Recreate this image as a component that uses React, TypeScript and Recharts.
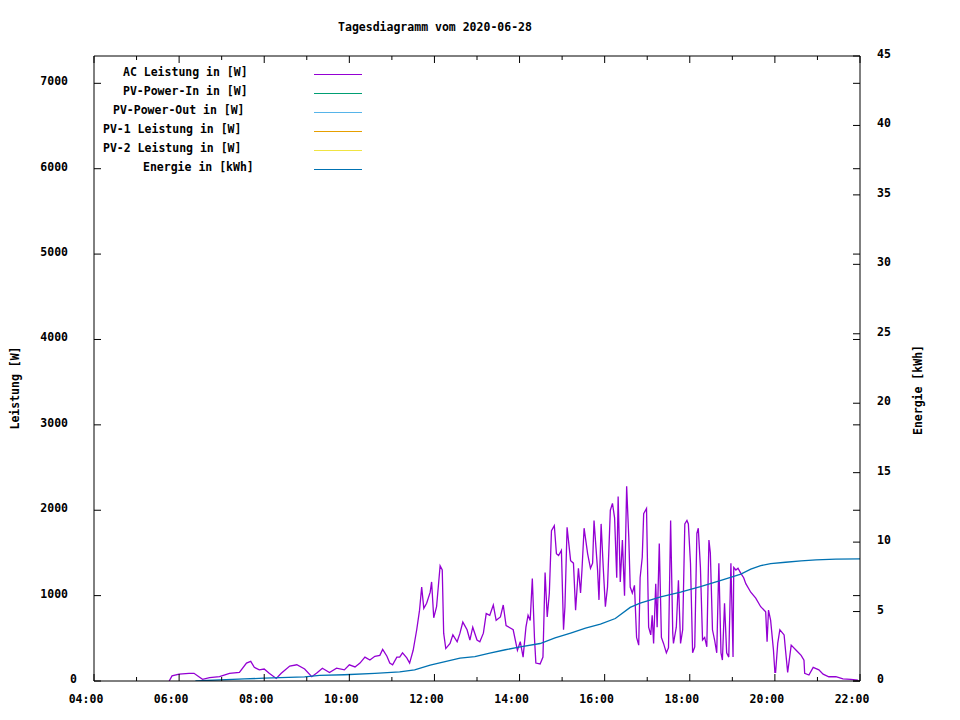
import * as React from 'react'
import { LineChart, Line, XAxis, YAxis, ReferenceLine } from 'recharts'

// AC Leistung in [W]
const acTimes = [
  '05:46', '05:50', '06:00', '06:14', '06:21', '06:33', '06:43', '06:57', '07:11', '07:25',
  '07:35', '07:41', '07:46', '07:53', '08:00', '08:07', '08:17', '08:24', '08:36', '08:46',
  '08:57', '09:07', '09:15', '09:22', '09:32', '09:42', '09:53', '10:00', '10:08', '10:15',
  '10:22', '10:29', '10:36', '10:43', '10:47', '10:53', '10:57', '11:01', '11:07', '11:11',
  '11:15', '11:21', '11:25', '11:30', '11:35', '11:39', '11:42', '11:45', '11:49', '11:54',
  '11:56', '11:59', '12:03', '12:08', '12:11', '12:13', '12:16', '12:22', '12:26', '12:32',
  '12:36', '12:40', '12:46', '12:50', '12:54', '13:00', '13:04', '13:09', '13:13', '13:18',
  '13:23', '13:27', '13:33', '13:37', '13:41', '13:47', '13:51', '13:57', '14:01', '14:05',
  '14:09', '14:12', '14:15', '14:18', '14:21', '14:23', '14:29', '14:33', '14:36', '14:39',
  '14:42', '14:45', '14:49', '14:52', '14:55', '14:59', '15:02', '15:04', '15:07', '15:12',
  '15:16', '15:19', '15:23', '15:26', '15:28', '15:31', '15:36', '15:40', '15:43', '15:45',
  '15:50', '15:52', '15:55', '15:58', '16:01', '16:04', '16:08', '16:11', '16:14', '16:17',
  '16:19', '16:22', '16:25', '16:28', '16:31', '16:34', '16:36', '16:39', '16:42', '16:45',
  '16:48', '16:50', '16:53', '16:55', '16:59', '17:02', '17:05', '17:07', '17:09', '17:12',
  '17:14', '17:17', '17:20', '17:23', '17:27', '17:30', '17:33', '17:36', '17:37', '17:41',
  '17:44', '17:47', '17:50', '17:53', '17:56', '17:58', '18:01', '18:04', '18:07', '18:10',
  '18:12', '18:15', '18:18', '18:21', '18:24', '18:27', '18:29', '18:32', '18:35', '18:38',
  '18:41', '18:44', '18:46', '18:49', '18:52', '18:55', '18:58', '19:01', '19:02', '19:05',
  '19:08', '19:12', '19:16', '19:19', '19:26', '19:33', '19:40', '19:47', '19:49', '19:51',
  '19:54', '19:58', '20:00', '20:01', '20:04', '20:07', '20:13', '20:15', '20:18', '20:23',
  '20:30', '20:37', '20:41', '20:42', '20:48', '20:54', '21:02', '21:08', '21:16', '21:26',
  '21:36', '21:47', '21:57',
]
const acWatts = [
  0, 60, 80, 90, 90, 20, 40, 50, 90, 100,
  210, 230, 160, 130, 140, 90, 30, 90, 175, 190,
  140, 50, 100, 150, 100, 150, 130, 190, 165, 210,
  280, 245, 290, 300, 370, 290, 210, 190, 280, 280,
  330, 270, 210, 360, 600, 830, 1100, 850, 910, 1040,
  1160, 740, 870, 1350, 1300, 560, 380, 440, 540, 460,
  560, 690, 600, 480, 630, 480, 460, 560, 790, 770,
  890, 710, 750, 890, 650, 620, 600, 360, 460, 280,
  630, 770, 710, 1200, 510, 210, 200, 280, 1270, 750,
  1030, 1760, 1820, 1490, 1470, 1530, 600, 870, 1800, 1410,
  1380, 830, 1320, 1030, 1300, 1790, 1490, 1320, 1380, 1880,
  1300, 950, 1840, 1330, 870, 1100, 2000, 2080, 1910, 1210,
  2160, 1160, 1650, 1000, 2280, 1680, 1100, 1030, 1120, 510,
  420, 1210, 1450, 1960, 2020, 630, 540, 770, 440, 1140,
  630, 1610, 510, 440, 330, 390, 1880, 560, 440, 630,
  1180, 440, 600, 1840, 1880, 1840, 1380, 330, 400, 1730,
  1790, 1330, 480, 510, 400, 1650, 1500, 600, 480, 330,
  1380, 330, 245, 910, 330, 280, 1380, 280, 1330, 1300,
  1320, 1260, 1210, 1140, 1040, 970, 870, 810, 460, 830,
  710, 360, 100, 100, 440, 600, 540, 360, 100, 420,
  360, 300, 245, 90, 70, 160, 130, 80, 50, 50,
  25, 20, 10,
]

// Energie in [kWh]
const energyTimes = [
  '06:23', '07:32', '08:00', '08:57', '09:18', '09:53', '10:36', '11:11', '11:32', '11:54',
  '12:15', '12:36', '12:57', '13:18', '13:40', '14:01', '14:29', '14:50', '15:12', '15:33',
  '15:54', '16:15', '16:36', '16:50', '17:19', '17:47', '18:15', '18:44', '19:12', '19:26',
  '19:40', '19:54', '20:15', '20:37', '20:58', '21:26', '22:00',
]
const energyKwh = [
  0, 0.15, 0.2, 0.3, 0.4, 0.45, 0.55, 0.65, 0.8, 1.15,
  1.4, 1.65, 1.75, 2.0, 2.25, 2.45, 2.7, 3.1, 3.45, 3.8,
  4.1, 4.5, 5.3, 5.6, 6.05, 6.4, 6.8, 7.25, 7.7, 8.05,
  8.3, 8.45, 8.55, 8.65, 8.72, 8.78, 8.8,
]

const seriesNames = [
  'AC Leistung in [W]',
  'PV-Power-In in [W]',
  'PV-Power-Out in [W]',
  'PV-1 Leistung in [W]',
  'PV-2 Leistung in [W]',
  'Energie in [kWh]',
]
const seriesColors = ['#9400d3', '#009e73', '#56b4e9', '#e69f00', '#f0e442', '#0072b2']

const xTicks = [240, 300, 360, 420, 480, 540, 600, 660, 720, 780, 840, 900, 960, 1020, 1080, 1140, 1200, 1260, 1320]
const leftTicks = [0, 1000, 2000, 3000, 4000, 5000, 6000, 7000]
const rightTicks = [0, 5, 10, 15, 20, 25, 30, 35, 40, 45]

const LEFT_MAX = 7320
const PLOT_LEFT = 94
const PLOT_RIGHT = 860
const PLOT_TOP = 56
const PLOT_BOTTOM = 681
const AXIS_SIZE = 10
const FONT = '"DejaVu Sans Mono", monospace'

const toMinutes = (s: string) => {
  const [h, m] = s.split(':').map(Number)
  return h * 60 + m
}
const pad = (n: number) => (n < 10 ? '0' + n : '' + n)

const acData = acTimes.map((t, i) => ({ t: toMinutes(t), v: acWatts[i] }))
const energyData = energyTimes.map((t, i) => ({ t: toMinutes(t), v: energyKwh[i] }))

const textStyle = { fontFamily: FONT, fontSize: 11.5, fontWeight: 'bold' as const, fill: '#000' }

const BottomTick = ({ x, payload }: any) => {
  const major = ((payload.value - 240) / 60) % 2 === 0
  const len = major ? 7 : 4
  return (
    <g>
      <line x1={x} x2={x} y1={PLOT_BOTTOM} y2={PLOT_BOTTOM - len} stroke="#000" />
      <line x1={x} x2={x} y1={PLOT_TOP} y2={PLOT_TOP + len} stroke="#000" />
      {major && (
        <text x={x - 8} y={PLOT_BOTTOM + 22} textAnchor="middle" style={textStyle}>
          {pad(Math.floor(payload.value / 60)) + ':00'}
        </text>
      )}
    </g>
  )
}

const LeftTick = ({ y, payload }: any) => (
  <g>
    <line x1={PLOT_LEFT} x2={PLOT_LEFT + 7} y1={y} y2={y} stroke="#000" />
    <line x1={PLOT_RIGHT} x2={PLOT_RIGHT - 7} y1={y} y2={y} stroke="#000" />
    <text x={payload.value === 0 ? 77 : 68} y={y + 2} textAnchor="end" style={textStyle}>
      {payload.value}
    </text>
  </g>
)

const RightTick = ({ y, payload }: any) => (
  <g>
    <line x1={PLOT_RIGHT} x2={PLOT_RIGHT - 7} y1={y} y2={y} stroke="#000" />
    <text x={877} y={y + 2} textAnchor="start" style={textStyle}>
      {payload.value}
    </text>
  </g>
)

export default function App() {
  return (
    <div style={{ position: 'absolute', left: 0, top: 0, width: 960, height: 720, background: '#fff' }}>
      <LineChart
        width={960}
        height={720}
        margin={{
          top: PLOT_TOP,
          right: 960 - PLOT_RIGHT - AXIS_SIZE,
          bottom: 720 - PLOT_BOTTOM - AXIS_SIZE,
          left: PLOT_LEFT - AXIS_SIZE,
        }}
      >
        <XAxis
          dataKey="t"
          type="number"
          domain={[240, 1320]}
          ticks={xTicks}
          interval={0}
          height={AXIS_SIZE}
          tickSize={0}
          tickMargin={0}
          tickLine={false}
          axisLine={{ stroke: '#000' }}
          tick={<BottomTick />}
          allowDataOverflow
        />
        <YAxis
          yAxisId="left"
          type="number"
          domain={[0, LEFT_MAX]}
          ticks={leftTicks}
          interval={0}
          width={AXIS_SIZE}
          tickSize={0}
          tickMargin={0}
          tickLine={false}
          axisLine={{ stroke: '#000' }}
          tick={<LeftTick />}
          allowDataOverflow
        />
        <YAxis
          yAxisId="right"
          orientation="right"
          type="number"
          domain={[0, 45]}
          ticks={rightTicks}
          interval={0}
          width={AXIS_SIZE}
          tickSize={0}
          tickMargin={0}
          tickLine={false}
          axisLine={{ stroke: '#000' }}
          tick={<RightTick />}
          allowDataOverflow
        />
        <ReferenceLine yAxisId="left" y={LEFT_MAX} stroke="#000" />
        <Line
          yAxisId="left"
          data={acData}
          dataKey="v"
          name={seriesNames[0]}
          stroke={seriesColors[0]}
          strokeWidth={1.3}
          dot={false}
          activeDot={false}
          type="linear"
          isAnimationActive={false}
        />
        <Line
          yAxisId="right"
          data={energyData}
          dataKey="v"
          name={seriesNames[5]}
          stroke={seriesColors[5]}
          strokeWidth={1.3}
          dot={false}
          activeDot={false}
          type="linear"
          isAnimationActive={false}
        />
        <text x={435} y={31} textAnchor="middle" style={textStyle}>
          Tagesdiagramm vom 2020-06-28
        </text>
        <text x={19} y={388} textAnchor="middle" transform="rotate(-90 19 388)" style={textStyle}>
          Leistung [W]
        </text>
        <text x={922} y={390} textAnchor="middle" transform="rotate(-90 922 390)" style={textStyle}>
          Energie [kWh]
        </text>
      </LineChart>
      {seriesNames.map((name, i) => (
        <div key={name}>
          {/* gnuplot-style right justification: start = 303 - 10px per character */}
          <div
            style={{
              position: 'absolute',
              left: 303 - 10 * name.length,
              top: 72 + 19 * i - 7,
              lineHeight: '14px',
              fontFamily: FONT,
              fontSize: 11.5,
              fontWeight: 'bold',
              color: '#000',
              whiteSpace: 'pre',
            }}
          >
            {name}
          </div>
          <div
            style={{
              position: 'absolute',
              left: 314,
              width: 48,
              top: 72 + 19 * i + 2,
              height: 1,
              background: seriesColors[i],
            }}
          />
        </div>
      ))}
    </div>
  )
}
